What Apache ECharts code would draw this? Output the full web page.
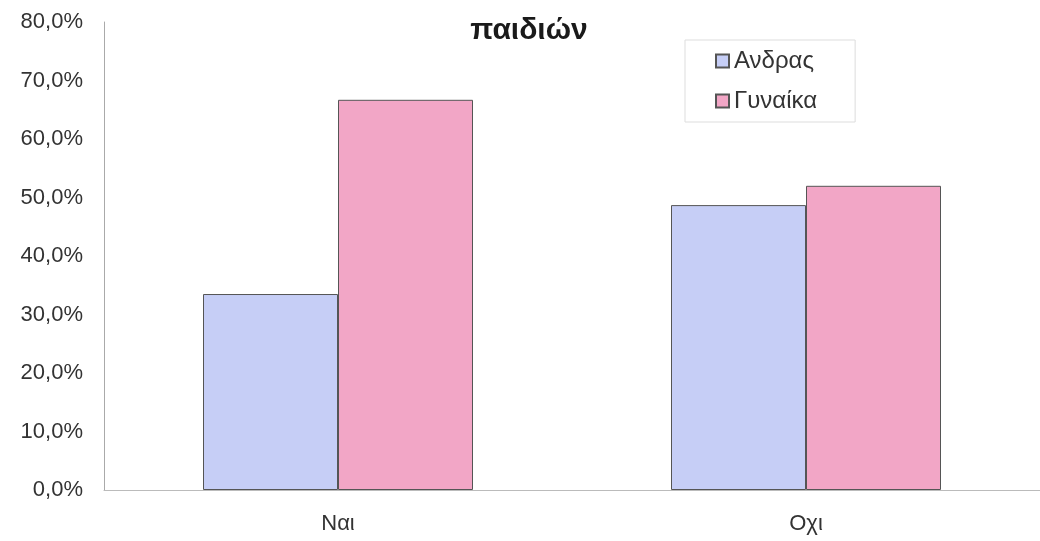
<!DOCTYPE html>
<html><head><meta charset="utf-8">
<script src="https://cdn.jsdelivr.net/npm/echarts@6/dist/echarts.min.js"></script>
<style>html,body{margin:0;padding:0;background:#fff}#c{width:1040px;height:541px}</style>
</head><body><div id="c"></div>
<script>
const titleText = 'παιδιών';
const categories = ['Ναι', 'Οχι'];
const seriesNames = ['Ανδρας', 'Γυναίκα'];
const andras = [33.5, 48.7];
const gynaika = [66.7, 52.0];
const yTicks = [0, 10, 20, 30, 40, 50, 60, 70, 80];

const chart = echarts.init(document.getElementById('c'));
chart.setOption({
  backgroundColor: '#ffffff',
  animation: false,
  title: {
    text: titleText, left: 524, top: 11, textAlign: 'center',
    textStyle: {fontFamily: 'Liberation Sans', fontSize: 30, fontWeight: 'bold', color: '#1a1a1a'}
  },
  legend: {
    orient: 'vertical', left: 685, top: 40,
    data: seriesNames,
    itemWidth: 13, itemHeight: 13, itemGap: 16,
    padding: [9, 38, 9, 30],
    borderColor: '#dddddd', borderWidth: 1,
    textStyle: {fontFamily: 'Liberation Sans', fontSize: 24, color: '#333'},
    icon: 'rect'
  },
  grid: {left: 104, right: 0, top: 22, bottom: 51},
  xAxis: {
    type: 'category', data: categories,
    axisLine: {lineStyle: {color: '#bbbbbb'}},
    axisTick: {show: false},
    axisLabel: {fontFamily: 'Liberation Sans', fontSize: 22, color: '#333', margin: 23}
  },
  yAxis: {
    type: 'value', min: yTicks[0], max: yTicks[yTicks.length - 1], interval: 10,
    axisLine: {show: true, lineStyle: {color: '#aaaaaa'}},
    axisTick: {show: false},
    splitLine: {show: false},
    axisLabel: {
      fontFamily: 'Liberation Sans', fontSize: 22, color: '#333', margin: 21,
      formatter: v => v.toFixed(1).replace('.', ',') + '%'
    }
  },
  series: [
    {name: seriesNames[0], type: 'bar', data: andras, barWidth: 135, barGap: '0%',
     itemStyle: {color: '#c6cef6', borderColor: '#555', borderWidth: 1}},
    {name: seriesNames[1], type: 'bar', data: gynaika, barWidth: 135, barGap: '0%',
     itemStyle: {color: '#f2a6c6', borderColor: '#555', borderWidth: 1}}
  ]
});
</script></body></html>
